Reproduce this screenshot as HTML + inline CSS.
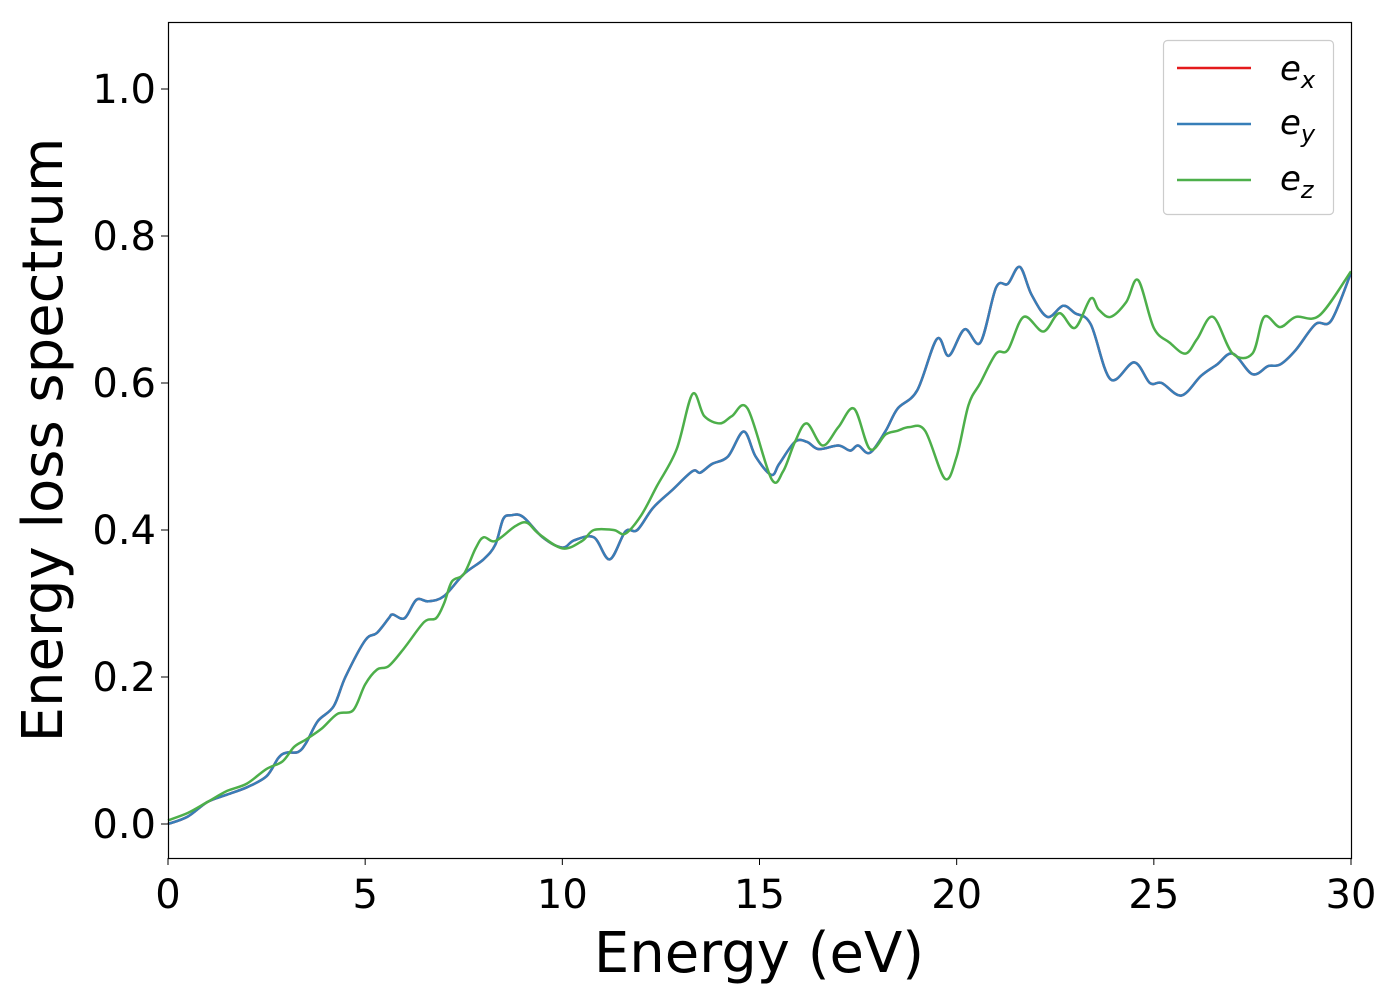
<!DOCTYPE html>
<html><head><meta charset="utf-8"><style>
body{margin:0;background:#fff}svg{display:block}
text{font-family:"DejaVu Sans","Liberation Sans",sans-serif;fill:#000}
</style></head><body>
<svg id="chart" width="1400" height="1000">
<g id="plot"></g>
<rect x="168.5" y="22.5" width="1183" height="836" fill="none" stroke="#000" stroke-width="1.2"/>
<g id="axes"></g>
<text x="759" y="972" font-size="56" text-anchor="middle">Energy (eV)</text>
<text transform="translate(62,440) rotate(-90)" font-size="56" text-anchor="middle">Energy loss spectrum</text>
<g>
<rect x="1163.5" y="40.5" width="170" height="174" rx="4" fill="#fff" stroke="#ccc" stroke-width="1.2"/>
<g><line x1="1177" y1="68" x2="1251" y2="68" stroke="#e41a1c" stroke-width="2.5"/><text x="1280" y="80" font-size="34" font-style="italic">e<tspan font-size="24" dy="8">x</tspan></text></g>
<g><line x1="1177" y1="124" x2="1251" y2="124" stroke="#377eb8" stroke-width="2.5"/><text x="1280" y="134" font-size="34" font-style="italic">e<tspan font-size="24" dy="8">y</tspan></text></g>
<g><line x1="1177" y1="180" x2="1251" y2="180" stroke="#4daf4a" stroke-width="2.5"/><text x="1280" y="190" font-size="34" font-style="italic">e<tspan font-size="24" dy="8">z</tspan></text></g>
</g>
</svg>
<script>
const xTicks=[0,5,10,15,20,25,30];
const yTicks=[0.0,0.2,0.4,0.6,0.8,1.0];
const yTickLabels=["0.0","0.2","0.4","0.6","0.8","1.0"];
const eBlue=[0,0.5,1,1.5,2,2.5,2.8,3,3.3,3.5,3.8,4.2,4.5,5,5.3,5.6,5.7,6,6.3,6.6,7,7.5,8,8.3,8.5,8.7,9,9.5,10,10.3,10.8,11.2,11.6,11.9,12.3,12.8,13.3,13.5,13.8,14.2,14.6,14.9,15.3,15.5,15.9,16.2,16.5,17,17.3,17.5,17.8,18.2,18.5,19,19.5,19.8,20.2,20.6,21,21.3,21.6,21.9,22.3,22.7,23,23.4,23.9,24.5,24.9,25.2,25.7,26.2,26.6,27,27.5,27.9,28.2,28.6,29.1,29.5,30];
const vBlue=[0,0.01,0.03,0.04,0.05,0.065,0.09,0.097,0.098,0.11,0.14,0.16,0.2,0.25,0.26,0.28,0.285,0.28,0.305,0.303,0.31,0.34,0.36,0.38,0.415,0.42,0.418,0.39,0.376,0.386,0.39,0.36,0.398,0.4,0.43,0.455,0.48,0.478,0.49,0.5,0.534,0.5,0.475,0.49,0.52,0.52,0.51,0.515,0.508,0.515,0.505,0.535,0.565,0.59,0.66,0.637,0.673,0.655,0.73,0.735,0.758,0.72,0.69,0.705,0.695,0.68,0.605,0.628,0.6,0.6,0.583,0.61,0.625,0.64,0.612,0.623,0.625,0.645,0.68,0.685,0.75];
const eGreen=[0,0.5,1,1.5,2,2.5,2.9,3.2,3.5,3.9,4.3,4.7,5,5.3,5.6,6,6.5,6.8,7,7.2,7.5,7.8,8,8.3,8.8,9.1,9.4,10,10.5,10.8,11.3,11.6,12,12.4,12.9,13.3,13.6,14,14.3,14.7,15.3,15.6,15.9,16.2,16.6,17,17.4,17.8,18.2,18.5,18.8,19.2,19.7,20,20.3,20.6,21,21.3,21.7,22.2,22.6,23,23.4,23.6,23.9,24.3,24.6,25,25.4,25.8,26.1,26.5,27,27.5,27.8,28.2,28.6,29.2,30];
const vGreen=[0.005,0.015,0.03,0.045,0.055,0.075,0.085,0.105,0.115,0.13,0.15,0.155,0.19,0.21,0.215,0.24,0.275,0.28,0.3,0.33,0.34,0.375,0.39,0.385,0.405,0.41,0.395,0.375,0.385,0.4,0.4,0.395,0.42,0.46,0.51,0.585,0.555,0.545,0.555,0.565,0.47,0.48,0.52,0.545,0.515,0.54,0.565,0.51,0.53,0.535,0.54,0.535,0.47,0.5,0.57,0.6,0.64,0.645,0.69,0.67,0.695,0.675,0.715,0.7,0.69,0.71,0.74,0.675,0.655,0.64,0.66,0.69,0.64,0.64,0.69,0.676,0.69,0.692,0.752];
const eRed=eBlue, vRed=vBlue;
const X=e=>168+e*(1183/30);
const Y=v=>824-v*735;
const NS="http://www.w3.org/2000/svg";
function smooth(xs,vs){
  const p=xs.map((e,i)=>[X(e),Y(vs[i])]);
  let d="M"+p[0][0]+","+p[0][1];
  for(let i=0;i<p.length-1;i++){
    const p0=p[Math.max(0,i-1)],p1=p[i],p2=p[i+1],p3=p[Math.min(p.length-1,i+2)];
    const c1=[p1[0]+(p2[0]-p0[0])/6,p1[1]+(p2[1]-p0[1])/6];
    const c2=[p2[0]-(p3[0]-p1[0])/6,p2[1]-(p3[1]-p1[1])/6];
    d+=`C${c1[0].toFixed(1)},${c1[1].toFixed(1)} ${c2[0].toFixed(1)},${c2[1].toFixed(1)} ${p2[0].toFixed(1)},${p2[1].toFixed(1)}`;
  }
  return d;
}
const plot=document.getElementById('plot');
[["series-ex",eRed,vRed,"#e41a1c"],["series-ey",eBlue,vBlue,"#377eb8"],["series-ez",eGreen,vGreen,"#4daf4a"]].forEach(s=>{
  const el=document.createElementNS(NS,'path');
  el.setAttribute('d',smooth(s[1],s[2]));
  el.setAttribute('fill','none');el.setAttribute('stroke',s[3]);el.setAttribute('stroke-width','2.5');
  
  
  plot.appendChild(el);
});
const axes=document.getElementById('axes');
xTicks.forEach(t=>{
  const l=document.createElementNS(NS,'line');
  l.setAttribute('x1',X(t));l.setAttribute('x2',X(t));l.setAttribute('y1',858);l.setAttribute('y2',865);l.setAttribute('stroke','#000');
  
  
  axes.appendChild(l);
  const tx=document.createElementNS(NS,'text');
  tx.setAttribute('x',X(t));tx.setAttribute('y',908);tx.setAttribute('font-size','40');tx.setAttribute('text-anchor','middle');
  tx.textContent=t;
  
  
  axes.appendChild(tx);
});
yTicks.forEach((t,i)=>{
  const l=document.createElementNS(NS,'line');
  l.setAttribute('x1',161);l.setAttribute('x2',168);l.setAttribute('y1',Y(t));l.setAttribute('y2',Y(t));l.setAttribute('stroke','#000');
  
  
  axes.appendChild(l);
  const tx=document.createElementNS(NS,'text');
  tx.setAttribute('x',156);tx.setAttribute('y',Y(t)+14);tx.setAttribute('font-size','40');tx.setAttribute('text-anchor','end');
  tx.textContent=yTickLabels[i];
  
  
  axes.appendChild(tx);
});
</script>
</body></html>
